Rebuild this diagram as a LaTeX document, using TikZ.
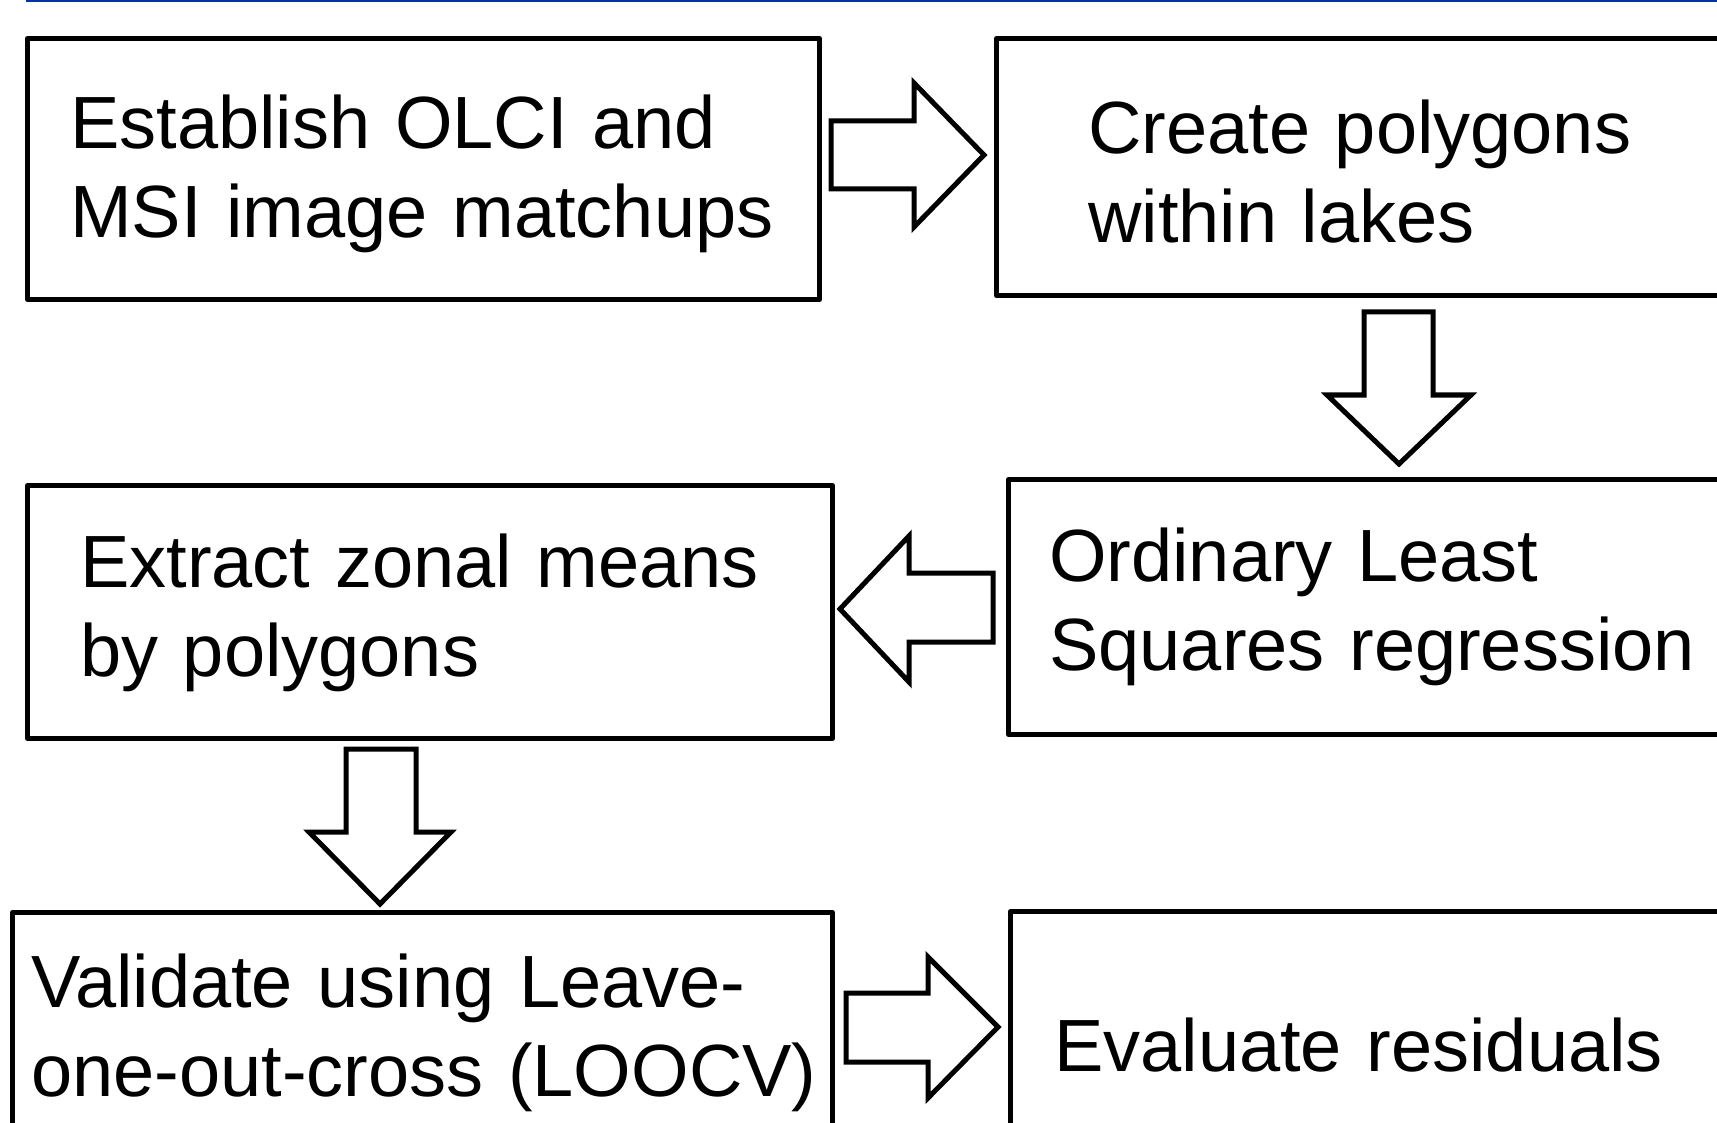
\documentclass[tikz,border=0pt]{standalone}
\usepackage{fontspec}
\setmainfont{Liberation Sans}
\definecolor{topblue}{RGB}{0,51,160}
\begin{document}
\begin{tikzpicture}[x=1pt,y=-1pt,
  box/.style={draw, line width=5pt, line join=round, rectangle, inner sep=0pt, anchor=north west},
  txt/.style={anchor=base west, inner sep=0pt, align=left, text width=760pt, font=\fontsize{74}{89}\selectfont},
  blockarrow/.style={draw, line width=5pt, line join=miter, fill=white}]
\useasboundingbox (0,0) rectangle (1717,1123);
\fill[white] (0,0) rectangle (1717,1123);
\draw[topblue, line width=3pt] (26,1) -- (1717,1);

% boxes
\node[box, minimum width=792pt, minimum height=261pt] (b1) at (25,36) {};
\node[box, minimum width=766pt, minimum height=257pt] (b2) at (994,36) {};
\node[box, minimum width=754pt, minimum height=255pt] (b3) at (1006,477) {};
\node[box, minimum width=805pt, minimum height=253pt] (b4) at (25,483) {};
\node[box, minimum width=820pt, minimum height=260pt] (b5) at (10,910) {};
\node[box, minimum width=752pt, minimum height=261pt] (b6) at (1008,909) {};

% texts
\node[txt] (t1) at ([shift={(45,113)}]b1.north west) {Establish OLCI and\\MSI image matchups};
\node[txt, text width=620pt] (t2) at ([shift={(94,118)}]b2.north west) {Create polygons\\within lakes};
\node[txt, text width=680pt] (t3) at ([shift={(43,104)}]b3.north west) {Ordinary Least\\Squares regression};
\node[txt, text width=700pt] (t4) at ([shift={(55,104)}]b4.north west) {Extract zonal means\\by polygons};
\node[txt, text width=795pt] (t5) at ([shift={(21,97)}]b5.north west) {Validate using Leave-\\one-out-cross (LOOCV)};
\node[txt, text width=640pt] (t6) at ([shift={(46,162)}]b6.north west) {Evaluate residuals};

% block arrows
\draw[blockarrow] (831,121) -- (914,121) -- (914,83) -- (984,155) -- (914,227) -- (914,189) -- (831,189) -- cycle;
\draw[blockarrow] (1364,312) -- (1433,312) -- (1433,395) -- (1471,395) -- (1399,464) -- (1327,395) -- (1364,395) -- cycle;
\draw[blockarrow] (993,573) -- (909,573) -- (909,536) -- (840,609) -- (909,682) -- (909,642) -- (993,642) -- cycle;
\draw[blockarrow] (346,749) -- (416,749) -- (416,832) -- (451,832) -- (380,904) -- (309,832) -- (346,832) -- cycle;
\draw[blockarrow] (846,993) -- (928,993) -- (928,957) -- (998,1027) -- (928,1098) -- (928,1062) -- (846,1062) -- cycle;
\end{tikzpicture}
\end{document}
